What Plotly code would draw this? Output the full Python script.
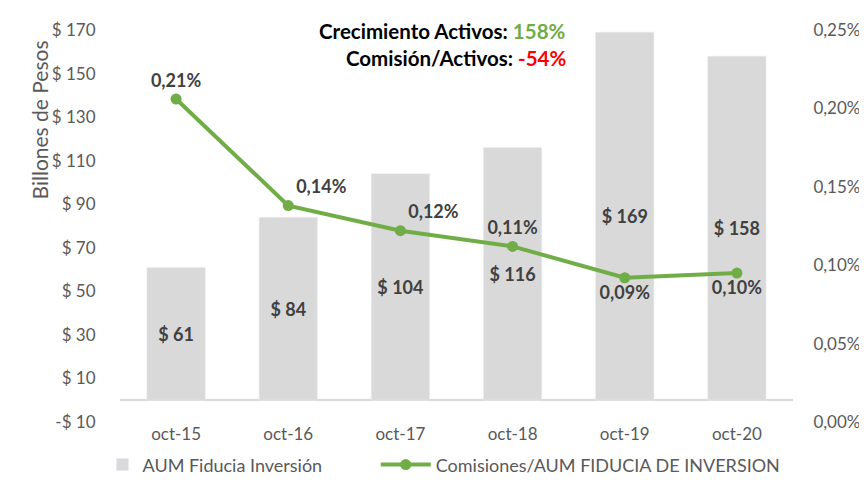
import plotly.graph_objects as go

# data
categories = ['oct-15', 'oct-16', 'oct-17', 'oct-18', 'oct-19', 'oct-20']
aum = [61, 84, 104, 116, 169, 158]                      # billones de pesos
comision = [0.00206, 0.00138, 0.00122, 0.00112, 0.00092, 0.00095]
comision_pos = ['top center', 'top right', 'top right', 'top center', 'bottom center', 'bottom center']
left_ticks = [-10, 10, 30, 50, 70, 90, 110, 130, 150, 170]
left_tick_text = ['-$ 10', '$ 10', '$ 30', '$ 50', '$ 70', '$ 90', '$ 110', '$ 130', '$ 150', '$ 170']
right_ticks = [0, 0.0005, 0.001, 0.0015, 0.002, 0.0025]

FONT = 'Lato'
GRAY = '#595959'
DARK = '#404040'
GREEN = '#70AD47'

bar_text = ['<b>$ ' + str(v) + '</b>' for v in aum]
line_text = ['<b>' + ('%.2f' % (v * 100)).replace('.', ',') + '%</b>' for v in comision]

fig = go.Figure()
fig.add_trace(go.Bar(
    x = categories,
    y = aum,
    name = 'AUM Fiducia Inversión',
    marker_color = '#D9D9D9',
    text = bar_text,
    textposition = 'inside',
    insidetextanchor = 'middle',
    textfont = {'size': 18, 'color': DARK, 'family': FONT},
    width = 0.52,
    legend = 'legend'))
fig.add_trace(go.Scatter(
    x = categories,
    y = comision,
    name = 'Comisiones/AUM FIDUCIA DE INVERSION',
    mode = 'lines+markers+text',
    line = {'color': GREEN, 'width': 4},
    marker = {'size': 11, 'color': GREEN},
    text = line_text,
    textposition = comision_pos,
    textfont = {'size': 18, 'color': DARK, 'family': FONT},
    yaxis = 'y2',
    legend = 'legend2'))

# the page body adds an 8px margin on every side, so keep the figure 16px smaller
fig.update_layout(
    width = 851,
    height = 470,
    plot_bgcolor = 'white',
    paper_bgcolor = 'white',
    separators = ',.',
    font = {'family': FONT, 'size': 17, 'color': GRAY},
    margin = {'l': 112, 'r': 66, 't': 22, 'b': 56},
    xaxis = {
        'showline': False,
        'showgrid': False,
        'automargin': False,
        'tickfont': {'size': 17, 'color': GRAY},
    },
    yaxis = {
        'range': [-10, 170],
        'tickvals': left_ticks,
        'ticktext': left_tick_text,
        'showgrid': False,
        'automargin': False,
        'zeroline': True,
        'zerolinecolor': '#D9D9D9',
        'zerolinewidth': 1.5,
        'ticks': 'outside',
        'ticklen': 20,
        'tickcolor': 'rgba(0,0,0,0)',
        'tickfont': {'size': 17, 'color': GRAY},
    },
    yaxis2 = {
        'range': [0, 0.0025],
        'tickvals': right_ticks,
        'tickformat': '.2%',
        'overlaying': 'y',
        'side': 'right',
        'showgrid': False,
        'automargin': False,
        'zeroline': False,
        'ticks': 'outside',
        'ticklen': 16,
        'tickcolor': 'rgba(0,0,0,0)',
        'tickfont': {'size': 17, 'color': GRAY},
    },
    legend = {
        'orientation': 'h',
        'x': -0.026,
        'xanchor': 'left',
        'yref': 'container',
        'y': 0.028,
        'yanchor': 'middle',
        'font': {'size': 18, 'color': GRAY},
    },
    legend2 = {
        'orientation': 'h',
        'x': 0.38,
        'xanchor': 'left',
        'yref': 'container',
        'y': 0.028,
        'yanchor': 'middle',
        'font': {'size': 18, 'color': GRAY},
        'itemwidth': 50,
    },
    showlegend = True,
    bargap = 0.48,
)

# axis title placed like Excel does (upper part of the axis)
fig.add_annotation(
    text = 'Billones de Pesos',
    textangle = -90,
    xref = 'paper', yref = 'paper',
    x = -0.12, y = 0.77, xanchor = 'center', yanchor = 'middle',
    showarrow = False,
    font = {'size': 21, 'color': GRAY})

# headline figures
fig.add_annotation(
    text = '<b>Crecimiento Activos: <span style="color:#70AD47">158%</span></b>',
    xref = 'paper', yref = 'paper',
    x = 0.666, y = 0.997, xanchor = 'right', yanchor = 'middle',
    showarrow = False,
    font = {'size': 20.5, 'color': 'black'})
fig.add_annotation(
    text = '<b>Comisión/Activos: <span style="color:#FF0000">-54%</span></b>',
    xref = 'paper', yref = 'paper',
    x = 0.666, y = 0.929, xanchor = 'right', yanchor = 'middle',
    showarrow = False,
    font = {'size': 20.5, 'color': 'black'})

fig.write_html("out.html")
